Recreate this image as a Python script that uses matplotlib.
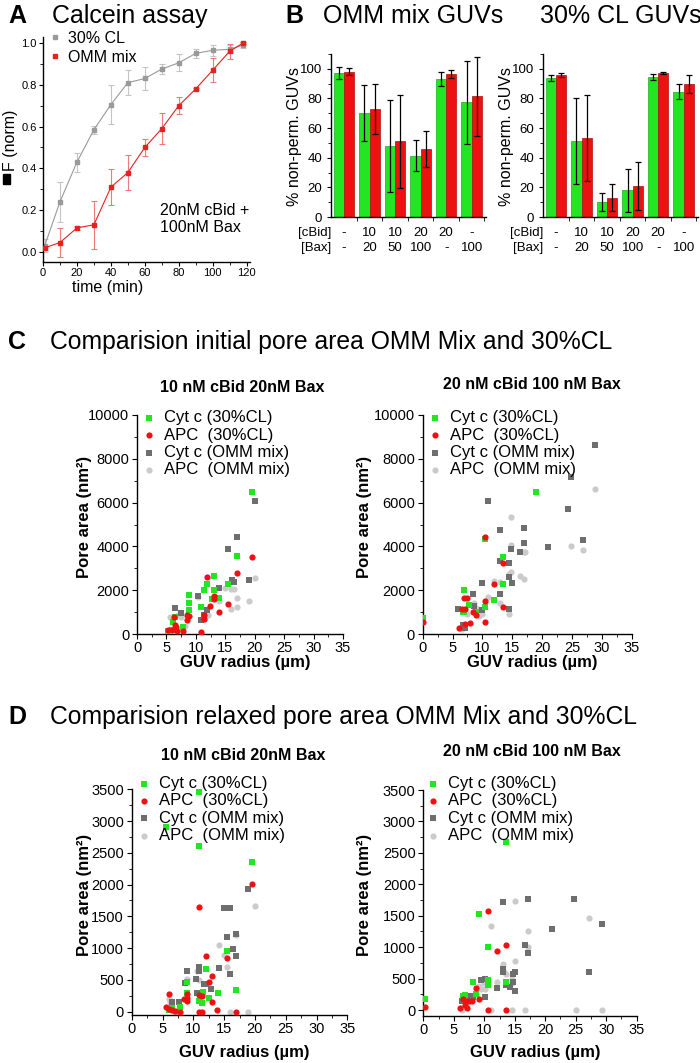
import matplotlib
matplotlib.use('Agg')
import matplotlib.pyplot as plt
import numpy as np
from matplotlib.ticker import MultipleLocator, FixedLocator
from matplotlib.lines import Line2D
from matplotlib.patches import Rectangle

plt.rcParams['font.family'] = ['Liberation Sans', 'DejaVu Sans']
plt.rcParams['axes.linewidth'] = 1.0

# ---------------- Panel A data ----------------
time_min = [1, 10, 20, 30, 40, 50, 60, 70, 80, 90, 100, 110, 118]
cl30 = [0.03, 0.24, 0.43, 0.585, 0.705, 0.81, 0.83, 0.875, 0.905, 0.95, 0.965, 0.97, 0.99]
cl30_err = [0.03, 0.095, 0.045, 0.02, 0.095, 0.06, 0.055, 0.025, 0.04, 0.02, 0.025, 0.02, 0.015]
omm = [0.02, 0.045, 0.115, 0.13, 0.31, 0.38, 0.50, 0.59, 0.70, 0.78, 0.87, 0.96, 1.0]
omm_err = [0.01, 0.07, 0.01, 0.115, 0.085, 0.085, 0.04, 0.073, 0.04, 0.005, 0.058, 0.035, 0.005]

# ---------------- Panel B data ----------------
cbid_labels = ['-', '10', '10', '20', '20', '-']
bax_labels = ['-', '20', '50', '100', '-', '100']
omm_green = [97, 70, 48, 41.5, 93, 77.5]
omm_green_err = [4, 19, 31, 10.5, 4.7, 28]
omm_red = [98, 73, 51, 46, 96.5, 81.5]
omm_red_err = [2.5, 17, 31.5, 12, 2.5, 26.5]
cl_green = [93.5, 51, 10, 18, 94.5, 84.5]
cl_green_err = [2, 29, 6, 14.5, 2, 5]
cl_red = [96, 53.5, 13, 21, 97, 90]
cl_red_err = [1.5, 29, 9, 16, 0.7, 6]

# ---------------- Panel C data (initial pore area) ----------------
cL_cyt30_x = [19.5, 17.0, 13.0, 11.9, 11.4, 13.0, 15.5, 8.9, 8.9, 8.9, 14.0, 10.9, 6.5, 7.9, 6.2, 5.3, 12.7, 6.0]
cL_cyt30_y = [6470, 3550, 2630, 2300, 1995, 1995, 2300, 1780, 1415, 1095, 1630, 1250, 790, 320, 560, 120, 1600, 200]
cL_apc30_x = [19.5, 17.0, 11.9, 13.0, 13.0, 12.4, 15.5, 14.0, 11.4, 11.4, 10.9, 8.5, 8.9, 8.5, 6.3, 6.4, 6.6, 5.3, 5.9, 6.8, 7.9]
cL_apc30_y = [3520, 2790, 2600, 1750, 1600, 1290, 1385, 1020, 880, 670, 110, 850, 800, 620, 790, 400, 330, 200, 180, 150, 150]
cL_cytomm_x = [20.0, 17.0, 15.5, 16.1, 16.5, 19.1, 14.0, 10.4, 6.4, 7.4, 11.9, 11.4, 10.8]
cL_cytomm_y = [6090, 4410, 3900, 2480, 2370, 2480, 2115, 1735, 1190, 945, 1095, 885, 630]
cL_apcomm_x = [20.0, 19.0, 17.0, 17.0, 16.0, 15.0, 16.0, 16.5, 14.0, 10.4, 11.4, 12.1, 7.5, 8.2, 5.6, 6.9]
cL_apcomm_y = [2570, 1520, 1645, 1215, 1140, 2100, 2070, 2040, 1520, 1675, 700, 880, 760, 380, 760, 850]

cR_cyt30_x = [18.9, 10.4, 13.4, 13.4, 6.9, 11.9, 7.7, 10.4, 6.9, 6.7, 9.0, 0.0]
cR_cyt30_y = [6480, 4320, 3500, 2280, 2010, 1540, 1320, 1250, 990, 990, 990, 720]
cR_apc30_x = [10.4, 13.4, 11.9, 6.9, 7.4, 10.4, 13.4, 6.55, 7.1, 8.4, 8.9, 10.4, 8.0, 7.1, 6.1, 0.0]
cR_apc30_y = [4440, 3260, 2280, 1630, 1650, 1510, 1250, 1130, 1130, 990, 870, 560, 520, 470, 290, 560]
cR_cytomm_x = [28.8, 24.8, 10.9, 24.3, 12.9, 16.9, 14.8, 16.9, 16.3, 20.9, 26.9, 12.9, 14.4, 14.4, 15.0, 10.0, 8.4, 12.9, 14.4, 10.0, 5.9, 8.6, 6.7, 7.1]
cR_cytomm_y = [8640, 7150, 6090, 5690, 4730, 4850, 3900, 4140, 3730, 3990, 4280, 3330, 3230, 2620, 2340, 2330, 1810, 1810, 1140, 1100, 1140, 1300, 420, 290]
cR_apcomm_x = [28.8, 14.8, 24.8, 26.9, 16.9, 17.1, 14.8, 14.8, 14.4, 16.3, 16.9, 11.9, 12.9, 10.9, 12.9, 14.4, 10.0, 9.4, 8.6, 8.9, 7.5, 6.6]
cR_apcomm_y = [6600, 5360, 4000, 3840, 3760, 3740, 4080, 2830, 2740, 2630, 2500, 2420, 2370, 1700, 1400, 910, 900, 830, 1400, 1210, 900, 230]

# ---------------- Panel D data (relaxed pore area) ----------------
dL_cyt30_x = [11.0, 5.5, 11.0, 19.5, 15.5, 12.0, 9.0, 16.9, 14.0, 11.6, 9.0, 11.0, 11.4, 7.8, 6.5, 12.5, 6.0]
dL_cyt30_y = [3450, 2900, 2610, 2360, 960, 670, 460, 340, 290, 310, 300, 170, 130, 80, 60, 220, 30]
dL_apc30_x = [19.5, 11.0, 15.5, 12.0, 13.0, 12.6, 9.0, 8.5, 8.9, 6.1, 11.4, 11.0, 5.5, 6.0, 6.5, 7.0, 11.0, 11.4, 13.9, 16.9, 7.8, 13.0, 9.0]
dL_apc30_y = [2010, 1645, 845, 880, 560, 460, 280, 200, 175, 280, 250, 260, 75, 50, 30, 10, 0, 0, 25, 0, 0, 150, 210]
dL_cytomm_x = [18.9, 15.0, 16.0, 16.9, 15.5, 16.5, 16.0, 16.9, 14.1, 11.0, 11.0, 9.0, 8.6, 11.7, 12.0, 12.9, 10.6, 6.5, 7.6, 10.4]
dL_cytomm_y = [1930, 1625, 1630, 1225, 1180, 980, 595, 880, 680, 710, 640, 640, 450, 440, 440, 350, 290, 150, 150, 510]
dL_apcomm_x = [20.0, 14.1, 15.0, 16.9, 15.5, 11.0, 10.6, 6.2, 6.0, 16.0, 18.9, 7.0, 9.0]
dL_apcomm_y = [1670, 1050, 900, 1200, 700, 500, 640, 150, 200, 0, 0, 0, 520]

dR_cyt30_x = [13.6, 9.1, 10.6, 10.6, 10.6, 13.6, 8.1, 8.6, 6.9, 6.5, 0.2]
dR_cyt30_y = [2670, 1520, 1000, 470, 400, 440, 440, 255, 240, 220, 175]
dR_apc30_x = [10.6, 13.6, 12.1, 8.6, 9.1, 6.5, 7.0, 7.5, 8.0, 6.8, 6.1, 10.6, 13.6, 0.2, 7.2]
dR_apc30_y = [1580, 1035, 940, 355, 175, 170, 150, 140, 140, 80, 30, 0, 0, 55, 30]
dR_cytomm_x = [13.0, 17.1, 24.7, 29.3, 21.1, 16.6, 17.1, 27.1, 13.0, 13.0, 14.7, 15.1, 10.1, 9.5, 14.7, 14.3, 12.1, 13.6, 15.1, 10.1, 6.3, 7.6, 8.2]
dR_cytomm_y = [1720, 1760, 1760, 1370, 1285, 1030, 900, 605, 660, 600, 580, 600, 500, 470, 440, 370, 355, 400, 305, 205, 145, 230, 200]
dR_apcomm_x = [27.1, 15.1, 11.1, 17.1, 17.1, 15.1, 13.0, 13.3, 13.6, 12.1, 14.6, 14.6, 9.9, 10.2, 9.2, 8.7, 11.1, 14.6, 16.7, 25.1, 29.3, 6.3, 9.5]
dR_apcomm_y = [1470, 1730, 1340, 1260, 1000, 780, 730, 600, 580, 450, 500, 430, 430, 330, 390, 250, 0, 0, 0, 0, 0, 0, 330]

legend_labels = ['Cyt c (30%CL)', 'APC  (30%CL)', 'Cyt c (OMM mix)', 'APC  (OMM mix)']

# ---------------- helpers ----------------
W, H = 700, 1063
fig = plt.figure(figsize=(7, 10.63), dpi=100)


def ax_px(l, t, r, b):
    return fig.add_axes([l / W, 1 - b / H, (r - l) / W, (b - t) / H])


def ftext(x, y, s, **kw):
    kw.setdefault('va', 'center')
    return fig.text(x / W, 1 - y / H, s, **kw)


def clean(ax):
    ax.spines['top'].set_visible(False)
    ax.spines['right'].set_visible(False)


GREEN = '#22e622'
RED = '#ee1111'
DGRAY = '#6e6e6e'
LGRAY = '#cbcbcb'

# ---------------- Panel A ----------------
axA = ax_px(43, 36.7, 250, 262)
clean(axA)
axA.errorbar(time_min, cl30, yerr=cl30_err, color='#9a9a9a', ecolor='#c4c4c4', lw=0.8,
             marker='s', ms=2.2, capsize=2, elinewidth=0.8, capthick=0.8, zorder=2)
axA.errorbar(time_min, omm, yerr=omm_err, color='#e82020', ecolor='#f07a7a', lw=0.8,
             marker='s', ms=2.2, capsize=2, elinewidth=0.8, capthick=0.8, zorder=3)
axA.set_xlim(0, 122)
axA.set_ylim(-0.048, 1.03)
axA.xaxis.set_major_locator(MultipleLocator(20))
axA.xaxis.set_minor_locator(MultipleLocator(10))
axA.yaxis.set_major_locator(MultipleLocator(0.2))
axA.yaxis.set_minor_locator(MultipleLocator(0.1))
axA.yaxis.set_major_formatter(plt.FormatStrFormatter('%.1f'))
axA.tick_params(labelsize=8, length=3, pad=1.5)
axA.tick_params(which='minor', length=2)
hA = [Line2D([], [], ls='', marker='s', ms=2.2, color='#9a9a9a'),
      Line2D([], [], ls='', marker='s', ms=2.2, color='#e82020')]
axA.legend(hA, ['30% CL', 'OMM mix'], loc='upper left', bbox_to_anchor=(49 / W, 1 - 31 / H),
           bbox_transform=fig.transFigure, frameon=False, fontsize=11.5, handlelength=0.8,
           handletextpad=0.4, borderpad=0, borderaxespad=0, labelspacing=0.25)
ftext(160, 203, '20nM cBid +\n100nM Bax', fontsize=11.5, va='top', linespacing=1.15)
ftext(10.5, 140, 'F (norm)', fontsize=11.5, rotation=90, ha='center')
fig.patches.append(Rectangle((3 / W, 1 - 184 / H), 6.5 / W, 10 / H, transform=fig.transFigure,
                             color='black'))
ftext(108, 288, 'time (min)', fontsize=11.5, ha='center')
ftext(8, 16, 'A', fontsize=18, fontweight='bold')
ftext(52, 16, 'Calcein assay', fontsize=18)

# ---------------- Panel B ----------------
ftext(285, 16, 'B', fontsize=18, fontweight='bold')
ftext(323, 16, 'OMM mix GUVs', fontsize=18)
ftext(540, 16, '30% CL GUVs', fontsize=18)


def bar_panel(l, r, g, ge, rd, rde, ylab_x):
    ax = ax_px(l, 54, r, 217)
    clean(ax)
    idx = np.arange(len(g))
    ekw = dict(ecolor='black', capsize=2.2, elinewidth=0.9, capthick=0.9)
    ax.bar(idx - 0.2, g, 0.4, yerr=ge, color=GREEN, edgecolor='#19b019', linewidth=0.5,
           error_kw=ekw)
    ax.bar(idx + 0.2, rd, 0.4, yerr=rde, color=RED, edgecolor='#a81010', linewidth=0.5,
           error_kw=ekw)
    ax.set_xlim(-0.51, 5.56)
    ax.set_ylim(0, 110)
    ax.yaxis.set_major_locator(MultipleLocator(20))
    ax.yaxis.set_minor_locator(MultipleLocator(10))
    ax.set_xticks([])
    ax.xaxis.set_minor_locator(FixedLocator(idx + 0.5))
    ax.tick_params(axis='y', labelsize=9.5, length=3)
    ax.tick_params(axis='y', which='minor', length=2)
    ax.tick_params(axis='x', which='minor', length=3)
    tr = ax.get_xaxis_transform()
    for i in idx:
        ax.text(i, -16 / 163, cbid_labels[i], transform=tr, ha='center', va='center', fontsize=9.5)
        ax.text(i, -31 / 163, bax_labels[i], transform=tr, ha='center', va='center', fontsize=9.5)
    ftext(l + 0.5, 233, '[cBid]', fontsize=9.5, ha='right')
    ftext(l + 0.5, 248, '[Bax]', fontsize=9.5, ha='right')
    ftext(ylab_x, 137, '% non-perm. GUVs', fontsize=11.5, rotation=90, ha='center')
    return ax


bar_panel(331, 486, omm_green, omm_green_err, omm_red, omm_red_err, 295)
bar_panel(543, 698, cl_green, cl_green_err, cl_red, cl_red_err, 507)

# ---------------- Panels C & D ----------------
ftext(8, 342, 'C', fontsize=18, fontweight='bold')
ftext(50, 342, 'Comparision initial pore area OMM Mix and 30%CL', fontsize=17.8)
ftext(8, 717, 'D', fontsize=18, fontweight='bold')
ftext(50, 717, 'Comparision relaxed pore area OMM Mix and 30%CL', fontsize=17.8)


def scatter_panel(box, ylim, ymaj, ymin, series, title, title_xy, ylab_xy, xlab_y, leg_xy):
    l, t, r, b = box
    ax = ax_px(l, t, r, b)
    clean(ax)
    (cx, cy), (ax_, ay), (gx, gy), (lx, ly) = series
    h4 = ax.scatter(lx, ly, s=20, marker='o', color=LGRAY, linewidths=0, zorder=2)
    h3 = ax.scatter(gx, gy, s=15, marker='s', color=DGRAY, linewidths=0, zorder=3)
    h1 = ax.scatter(cx, cy, s=15, marker='s', color=GREEN, linewidths=0, zorder=4)
    h2 = ax.scatter(ax_, ay, s=20, marker='o', color=RED, linewidths=0, zorder=5)
    ax.set_xlim(0, 35)
    ax.set_ylim(*ylim)
    ax.xaxis.set_major_locator(MultipleLocator(5))
    ax.xaxis.set_minor_locator(MultipleLocator(2.5))
    ax.yaxis.set_major_locator(MultipleLocator(ymaj))
    ax.yaxis.set_minor_locator(MultipleLocator(ymin))
    ax.tick_params(labelsize=10.5, length=3.5, pad=2)
    ax.tick_params(axis='x', pad=1.5)
    ax.tick_params(which='minor', length=2)
    ax.legend([h1, h2, h3, h4], legend_labels, loc='upper left',
              bbox_to_anchor=(leg_xy[0] / W, 1 - leg_xy[1] / H), bbox_transform=fig.transFigure,
              frameon=False, fontsize=12, handlelength=1.0, handletextpad=0.4, borderpad=0,
              borderaxespad=0, labelspacing=0.14, scatterpoints=1)
    ftext(title_xy[0], title_xy[1], title, fontsize=11.5, fontweight='bold', ha='center')
    ftext(ylab_xy[0], ylab_xy[1], 'Pore area (nm²)', fontsize=12, fontweight='bold',
          rotation=90, ha='center')
    ftext((l + r) / 2 + 5, xlab_y, 'GUV radius (µm)', fontsize=12, fontweight='bold', ha='center')
    return ax


scatter_panel((137, 415, 343, 634), (0, 10000), 2000, 1000,
              [(cL_cyt30_x, cL_cyt30_y), (cL_apc30_x, cL_apc30_y),
               (cL_cytomm_x, cL_cytomm_y), (cL_apcomm_x, cL_apcomm_y)],
              '10 nM cBid 20nM Bax', (242, 387), (85, 517), 662, (140.6, 410.5))
scatter_panel((422.7, 415, 631.7, 634), (0, 10000), 2000, 1000,
              [(cR_cyt30_x, cR_cyt30_y), (cR_apc30_x, cR_apc30_y),
               (cR_cytomm_x, cR_cytomm_y), (cR_apcomm_x, cR_apcomm_y)],
              '20 nM cBid 100 nM Bax', (532, 385), (365, 517), 662, (426.6, 410.5))
scatter_panel((131.7, 789.3, 347.3, 1015), (-52, 3500), 500, 250,
              [(dL_cyt30_x, dL_cyt30_y), (dL_apc30_x, dL_apc30_y),
               (dL_cytomm_x, dL_cytomm_y), (dL_apcomm_x, dL_apcomm_y)],
              '10 nM cBid 20nM Bax', (243, 755), (85, 895), 1052, (135.6, 776))
scatter_panel((423.3, 790, 636.7, 1016), (-95, 3500), 500, 250,
              [(dR_cyt30_x, dR_cyt30_y), (dR_apc30_x, dR_apc30_y),
               (dR_cytomm_x, dR_cytomm_y), (dR_apcomm_x, dR_apcomm_y)],
              '20 nM cBid 100 nM Bax', (532, 752), (365, 895), 1052, (424.3, 776))

fig.savefig('out.png', dpi=100)
